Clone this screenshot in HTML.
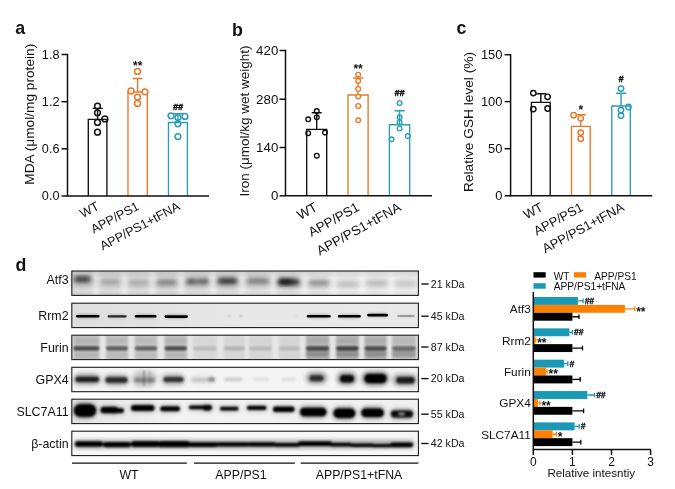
<!DOCTYPE html>
<html><head><meta charset="utf-8"><title>Figure</title>
<style>html,body{margin:0;padding:0;background:#fff}svg{display:block}text{font-family:"Liberation Sans",sans-serif}</style>
</head><body>
<svg width="675" height="489" viewBox="0 0 675 489">
<rect width="675" height="489" fill="#fff"/>
<text x="15.3" y="33.7" font-size="17.8" font-weight="bold" fill="#111111">a</text>
<text x="232" y="36.2" font-size="17.8" font-weight="bold" fill="#111111">b</text>
<text x="456.6" y="33.8" font-size="17.8" font-weight="bold" fill="#111111">c</text>
<text x="15.5" y="270.9" font-size="17.8" font-weight="bold" fill="#111111">d</text>
<line x1="61.5" x2="67.5" y1="54.5" y2="54.5" stroke="#111111" stroke-width="1.5"/>
<text x="59.5" y="58.8" font-size="12.7" text-anchor="end" fill="#111111">1.8</text>
<line x1="61.5" x2="67.5" y1="101.7" y2="101.7" stroke="#111111" stroke-width="1.5"/>
<text x="59.5" y="106.0" font-size="12.7" text-anchor="end" fill="#111111">1.2</text>
<line x1="61.5" x2="67.5" y1="148.8" y2="148.8" stroke="#111111" stroke-width="1.5"/>
<text x="59.5" y="153.10000000000002" font-size="12.7" text-anchor="end" fill="#111111">0.6</text>
<line x1="61.5" x2="67.5" y1="196.0" y2="196.0" stroke="#111111" stroke-width="1.5"/>
<text x="59.5" y="200.3" font-size="12.7" text-anchor="end" fill="#111111">0.0</text>
<text transform="translate(34.2 114.25) rotate(-90)" font-size="13.7" text-anchor="middle" fill="#111111">MDA (μmol/mg protein)</text>
<path d="M88.3 196.0 V119.3 H106.9 V196.0" fill="#fff" stroke="#111111" stroke-width="1.35"/>
<path d="M97.6 119.3 V108.4 M92.6 108.4 H102.8" fill="none" stroke="#111111" stroke-width="1.4"/>
<circle cx="97.5" cy="106.1" r="2.9" fill="none" stroke="#111111" stroke-width="1.5"/>
<circle cx="97.5" cy="112.8" r="2.9" fill="none" stroke="#111111" stroke-width="1.5"/>
<circle cx="97.5" cy="122.4" r="2.9" fill="none" stroke="#111111" stroke-width="1.5"/>
<circle cx="104.9" cy="118.9" r="2.9" fill="none" stroke="#111111" stroke-width="1.5"/>
<circle cx="97.5" cy="132.2" r="2.9" fill="none" stroke="#111111" stroke-width="1.5"/>
<path d="M128 196.0 V92.0 H147.3 V196.0" fill="#fff" stroke="#E9782A" stroke-width="1.35"/>
<path d="M137.65 92.0 V78.5 M132.8 78.5 H142.4" fill="none" stroke="#E9782A" stroke-width="1.4"/>
<circle cx="137.5" cy="71.4" r="2.9" fill="#fff" stroke="#E9782A" stroke-width="1.5"/>
<circle cx="131" cy="90.9" r="2.9" fill="#fff" stroke="#E9782A" stroke-width="1.5"/>
<circle cx="145" cy="91.8" r="2.9" fill="#fff" stroke="#E9782A" stroke-width="1.5"/>
<circle cx="137.5" cy="97.2" r="2.9" fill="#fff" stroke="#E9782A" stroke-width="1.5"/>
<circle cx="137.5" cy="103.4" r="2.9" fill="#fff" stroke="#E9782A" stroke-width="1.5"/>
<text x="137.65" y="69.5" font-size="12" font-weight="bold" text-anchor="middle" fill="#111111">**</text>
<path d="M168.5 196.0 V122.5 H187.4 V196.0" fill="#fff" stroke="#2A9DB8" stroke-width="1.35"/>
<path d="M177.95 122.5 V113.7 M173 113.7 H183" fill="none" stroke="#2A9DB8" stroke-width="1.4"/>
<circle cx="171" cy="115.8" r="2.9" fill="none" stroke="#2A9DB8" stroke-width="1.5"/>
<circle cx="177.9" cy="117.6" r="2.9" fill="none" stroke="#2A9DB8" stroke-width="1.5"/>
<circle cx="184.9" cy="116.4" r="2.9" fill="none" stroke="#2A9DB8" stroke-width="1.5"/>
<circle cx="177.9" cy="123.8" r="2.9" fill="none" stroke="#2A9DB8" stroke-width="1.5"/>
<circle cx="177.9" cy="136.6" r="2.9" fill="none" stroke="#2A9DB8" stroke-width="1.5"/>
<text x="177.95" y="109.5" font-size="9" font-weight="bold" font-style="italic" text-anchor="middle" fill="#111111" stroke="#111111" stroke-width="0.45">##</text>
<path d="M67.5 53.75 V196.0 H209" fill="none" stroke="#111111" stroke-width="1.5"/>
<text transform="translate(100 209) rotate(-28)" font-size="12.6" text-anchor="end" fill="#111111">WT</text>
<text transform="translate(140 209) rotate(-28)" font-size="12.6" text-anchor="end" fill="#111111">APP/PS1</text>
<text transform="translate(181 209) rotate(-28)" font-size="12.6" text-anchor="end" fill="#111111">APP/PS1+tFNA</text>
<line x1="279.5" x2="285.5" y1="50.5" y2="50.5" stroke="#111111" stroke-width="1.5"/>
<text x="278.3" y="54.8" font-size="13.3" text-anchor="end" fill="#111111">420</text>
<line x1="279.5" x2="285.5" y1="99.2" y2="99.2" stroke="#111111" stroke-width="1.5"/>
<text x="278.3" y="103.5" font-size="13.3" text-anchor="end" fill="#111111">280</text>
<line x1="279.5" x2="285.5" y1="147.5" y2="147.5" stroke="#111111" stroke-width="1.5"/>
<text x="278.3" y="151.8" font-size="13.3" text-anchor="end" fill="#111111">140</text>
<line x1="279.5" x2="285.5" y1="195.8" y2="195.8" stroke="#111111" stroke-width="1.5"/>
<text x="278.3" y="200.10000000000002" font-size="13.3" text-anchor="end" fill="#111111">0</text>
<text transform="translate(248.6 121) rotate(-90)" font-size="13.5" text-anchor="middle" fill="#111111">Iron (μmol/kg wet weight)</text>
<path d="M306.7 195.8 V129.3 H326.7 V195.8" fill="#fff" stroke="#111111" stroke-width="1.35"/>
<path d="M316.7 129.3 V112.8 M311.7 112.8 H321.7" fill="none" stroke="#111111" stroke-width="1.4"/>
<circle cx="316.8" cy="111.1" r="2.35" fill="none" stroke="#111111" stroke-width="1.35"/>
<circle cx="308.2" cy="119.3" r="2.35" fill="none" stroke="#111111" stroke-width="1.35"/>
<circle cx="316.8" cy="117.3" r="2.35" fill="none" stroke="#111111" stroke-width="1.35"/>
<circle cx="308.2" cy="133.2" r="2.35" fill="none" stroke="#111111" stroke-width="1.35"/>
<circle cx="325" cy="132.6" r="2.35" fill="none" stroke="#111111" stroke-width="1.35"/>
<circle cx="316.8" cy="155.7" r="2.35" fill="none" stroke="#111111" stroke-width="1.35"/>
<path d="M348 195.8 V95 H368.1 V195.8" fill="#fff" stroke="#E9782A" stroke-width="1.35"/>
<path d="M358.05 95 V78 M353.1 78 H363.3" fill="none" stroke="#E9782A" stroke-width="1.4"/>
<circle cx="358.2" cy="74.7" r="2.35" fill="#fff" stroke="#E9782A" stroke-width="1.35"/>
<circle cx="358.2" cy="80.9" r="2.35" fill="#fff" stroke="#E9782A" stroke-width="1.35"/>
<circle cx="358.2" cy="89" r="2.35" fill="#fff" stroke="#E9782A" stroke-width="1.35"/>
<circle cx="358.2" cy="96.4" r="2.35" fill="#fff" stroke="#E9782A" stroke-width="1.35"/>
<circle cx="358.2" cy="106" r="2.35" fill="#fff" stroke="#E9782A" stroke-width="1.35"/>
<circle cx="358.2" cy="120.3" r="2.35" fill="#fff" stroke="#E9782A" stroke-width="1.35"/>
<text x="358.05" y="73.0" font-size="12" font-weight="bold" text-anchor="middle" fill="#111111">**</text>
<path d="M389.4 195.8 V124.7 H409.7 V195.8" fill="#fff" stroke="#2A9DB8" stroke-width="1.35"/>
<path d="M399.54999999999995 124.7 V110.7 M394.5 110.7 H404.7" fill="none" stroke="#2A9DB8" stroke-width="1.4"/>
<circle cx="399.6" cy="103" r="2.35" fill="none" stroke="#2A9DB8" stroke-width="1.35"/>
<circle cx="399.6" cy="117.3" r="2.35" fill="none" stroke="#2A9DB8" stroke-width="1.35"/>
<circle cx="399.6" cy="122.4" r="2.35" fill="none" stroke="#2A9DB8" stroke-width="1.35"/>
<circle cx="399.6" cy="128.5" r="2.35" fill="none" stroke="#2A9DB8" stroke-width="1.35"/>
<circle cx="391.6" cy="139.3" r="2.35" fill="none" stroke="#2A9DB8" stroke-width="1.35"/>
<circle cx="407.8" cy="136.1" r="2.35" fill="none" stroke="#2A9DB8" stroke-width="1.35"/>
<text x="399.54999999999995" y="96" font-size="9" font-weight="bold" font-style="italic" text-anchor="middle" fill="#111111" stroke="#111111" stroke-width="0.45">##</text>
<path d="M285.5 49.75 V195.8 H432" fill="none" stroke="#111111" stroke-width="1.5"/>
<text transform="translate(318.5 210) rotate(-29)" font-size="13.4" text-anchor="end" fill="#111111">WT</text>
<text transform="translate(360.3 210) rotate(-29)" font-size="13.4" text-anchor="end" fill="#111111">APP/PS1</text>
<text transform="translate(402 210) rotate(-29)" font-size="13.4" text-anchor="end" fill="#111111">APP/PS1+tFNA</text>
<line x1="504.6" x2="510.6" y1="54.7" y2="54.7" stroke="#111111" stroke-width="1.5"/>
<text x="502.40000000000003" y="59.0" font-size="12.9" text-anchor="end" fill="#111111">150</text>
<line x1="504.6" x2="510.6" y1="101.6" y2="101.6" stroke="#111111" stroke-width="1.5"/>
<text x="502.40000000000003" y="105.89999999999999" font-size="12.9" text-anchor="end" fill="#111111">100</text>
<line x1="504.6" x2="510.6" y1="148.7" y2="148.7" stroke="#111111" stroke-width="1.5"/>
<text x="502.40000000000003" y="153.0" font-size="12.9" text-anchor="end" fill="#111111">50</text>
<line x1="504.6" x2="510.6" y1="195.8" y2="195.8" stroke="#111111" stroke-width="1.5"/>
<text x="502.40000000000003" y="200.10000000000002" font-size="12.9" text-anchor="end" fill="#111111">0</text>
<text transform="translate(473.1 122) rotate(-90)" font-size="13.7" text-anchor="middle" fill="#111111">Relative GSH level (%)</text>
<path d="M531.4 195.8 V102.4 H550.2 V195.8" fill="#fff" stroke="#111111" stroke-width="1.35"/>
<path d="M540.8 102.4 V93.7 M536.2 93.7 H546.2" fill="none" stroke="#111111" stroke-width="1.4"/>
<circle cx="533.3" cy="93.1" r="2.7" fill="none" stroke="#111111" stroke-width="1.45"/>
<circle cx="547.6" cy="96.8" r="2.7" fill="none" stroke="#111111" stroke-width="1.45"/>
<circle cx="533.3" cy="109.1" r="2.7" fill="none" stroke="#111111" stroke-width="1.45"/>
<circle cx="547.6" cy="108.5" r="2.7" fill="none" stroke="#111111" stroke-width="1.45"/>
<path d="M571.5 195.8 V126.3 H590.2 V195.8" fill="#fff" stroke="#E9782A" stroke-width="1.35"/>
<path d="M580.85 126.3 V114.8 M576 114.8 H585.8" fill="none" stroke="#E9782A" stroke-width="1.4"/>
<circle cx="573.6" cy="115.2" r="2.7" fill="#fff" stroke="#E9782A" stroke-width="1.45"/>
<circle cx="580.7" cy="118.3" r="2.7" fill="#fff" stroke="#E9782A" stroke-width="1.45"/>
<circle cx="580.7" cy="132.6" r="2.7" fill="#fff" stroke="#E9782A" stroke-width="1.45"/>
<circle cx="580.7" cy="138.7" r="2.7" fill="#fff" stroke="#E9782A" stroke-width="1.45"/>
<text x="580.85" y="114.0" font-size="12" font-weight="bold" text-anchor="middle" fill="#111111">*</text>
<path d="M611.8 195.8 V106 H630.3 V195.8" fill="#fff" stroke="#2A9DB8" stroke-width="1.35"/>
<path d="M621.05 106 V93.3 M616.1 93.3 H626" fill="none" stroke="#2A9DB8" stroke-width="1.4"/>
<circle cx="621" cy="88.6" r="2.7" fill="none" stroke="#2A9DB8" stroke-width="1.45"/>
<circle cx="628.4" cy="107" r="2.7" fill="none" stroke="#2A9DB8" stroke-width="1.45"/>
<circle cx="621" cy="110.1" r="2.7" fill="none" stroke="#2A9DB8" stroke-width="1.45"/>
<circle cx="621" cy="115.6" r="2.7" fill="none" stroke="#2A9DB8" stroke-width="1.45"/>
<text x="621.05" y="82" font-size="9" font-weight="bold" font-style="italic" text-anchor="middle" fill="#111111" stroke="#111111" stroke-width="0.45">#</text>
<path d="M510.6 53.95 V195.8 H652.3" fill="none" stroke="#111111" stroke-width="1.5"/>
<text transform="translate(544 210) rotate(-28.5)" font-size="12.9" text-anchor="end" fill="#111111">WT</text>
<text transform="translate(584 210) rotate(-28.5)" font-size="12.9" text-anchor="end" fill="#111111">APP/PS1</text>
<text transform="translate(625 210) rotate(-28.5)" font-size="12.9" text-anchor="end" fill="#111111">APP/PS1+tFNA</text>
<defs><filter id="f05" x="-20%" y="-20%" width="140%" height="140%"><feGaussianBlur stdDeviation="0.6"/></filter><filter id="f08" x="-20%" y="-20%" width="140%" height="140%"><feGaussianBlur stdDeviation="0.9"/></filter><filter id="f12" x="-20%" y="-20%" width="140%" height="140%"><feGaussianBlur stdDeviation="1.3"/></filter><filter id="f18" x="-20%" y="-20%" width="140%" height="140%"><feGaussianBlur stdDeviation="1.9"/></filter><filter id="f30" x="-20%" y="-20%" width="140%" height="140%"><feGaussianBlur stdDeviation="3"/></filter></defs>
<clipPath id="cp0"><rect x="71.8" y="271" width="346.59999999999997" height="24.4"/></clipPath>
<g clip-path="url(#cp0)">
<linearGradient id="g0" x1="0" x2="1" y1="0" y2="0"><stop offset="0" stop-color="#dadada"/><stop offset="0.55" stop-color="#e2e2e2"/><stop offset="0.75" stop-color="#ececec"/><stop offset="1" stop-color="#f0f0f0"/></linearGradient>
<rect x="71.8" y="271" width="346.59999999999997" height="24.4" fill="url(#g0)"/>
<g filter="url(#f18)"><rect x="93.4" y="269" width="5.2" height="28.4" fill="#fff" opacity="0.55"/><rect x="121.8" y="269" width="5.2" height="28.4" fill="#fff" opacity="0.55"/><rect x="149.9" y="269" width="5.2" height="28.4" fill="#fff" opacity="0.55"/><rect x="178.8" y="269" width="5.2" height="28.4" fill="#fff" opacity="0.55"/><rect x="210.2" y="269" width="5.2" height="28.4" fill="#fff" opacity="0.55"/><rect x="239.5" y="269" width="5.2" height="28.4" fill="#fff" opacity="0.55"/><rect x="270.9" y="269" width="5.2" height="28.4" fill="#fff" opacity="0.55"/><rect x="301.6" y="269" width="5.2" height="28.4" fill="#fff" opacity="0.55"/><rect x="330.9" y="269" width="5.2" height="28.4" fill="#fff" opacity="0.55"/><rect x="359.8" y="269" width="5.2" height="28.4" fill="#fff" opacity="0.55"/><rect x="388.9" y="269" width="5.2" height="28.4" fill="#fff" opacity="0.55"/></g>
<g filter="url(#f30)"><rect x="72.2" y="274.8" width="20.8" height="12.0" rx="6.0" fill="#000" opacity="0.165"/><rect x="99.0" y="277.5" width="22.5" height="12.0" rx="6.0" fill="#000" opacity="0.0594"/><rect x="127.3" y="278.4" width="22.7" height="12.0" rx="6.0" fill="#000" opacity="0.055"/><rect x="155.0" y="278.0" width="23.4" height="12.0" rx="6.0" fill="#000" opacity="0.1056"/><rect x="184.5" y="277.1" width="25.5" height="12.0" rx="6.0" fill="#000" opacity="0.132"/><rect x="215.7" y="276.5" width="23.5" height="12.0" rx="6.0" fill="#000" opacity="0.17600000000000002"/><rect x="245.0" y="276.5" width="26.0" height="12.0" rx="6.0" fill="#000" opacity="0.11"/><rect x="276.0" y="277.5" width="25.4" height="12.0" rx="6.0" fill="#000" opacity="0.209"/><rect x="307.0" y="278.5" width="24.0" height="12.0" rx="6.0" fill="#000" opacity="0.0924"/><rect x="336.0" y="279.8" width="24.0" height="12.0" rx="6.0" fill="#000" opacity="0.044000000000000004"/><rect x="364.7" y="278.9" width="24.3" height="12.0" rx="6.0" fill="#000" opacity="0.0528"/><rect x="394.0" y="279.3" width="23.5" height="12.0" rx="6.0" fill="#000" opacity="0.039599999999999996"/></g>
<g filter="url(#f18)"><rect x="74.2" y="276.6" width="16.8" height="5.4" rx="2.7" fill="#000" opacity="0.6000000000000001"/><rect x="101.0" y="279.7" width="18.5" height="4.6" rx="2.3" fill="#000" opacity="0.21600000000000003"/><rect x="129.3" y="280.7" width="18.7" height="4.4" rx="2.2" fill="#000" opacity="0.2"/><rect x="157.0" y="280.2" width="19.4" height="4.6" rx="2.3" fill="#000" opacity="0.384"/><rect x="186.5" y="279.1" width="21.5" height="5.0" rx="2.5" fill="#000" opacity="0.48"/><rect x="217.7" y="278.2" width="19.5" height="5.6" rx="2.8" fill="#000" opacity="0.6400000000000001"/><rect x="247.0" y="278.4" width="22.0" height="5.2" rx="2.6" fill="#000" opacity="0.4"/><rect x="278.0" y="278.9" width="21.4" height="6.2" rx="3.1" fill="#000" opacity="0.76"/><rect x="309.0" y="280.6" width="20.0" height="4.8" rx="2.4" fill="#000" opacity="0.336"/><rect x="338.0" y="282.1" width="20.0" height="4.4" rx="2.2" fill="#000" opacity="0.16000000000000003"/><rect x="366.7" y="281.2" width="20.3" height="4.4" rx="2.2" fill="#000" opacity="0.192"/><rect x="396.0" y="281.7" width="19.5" height="4.2" rx="2.1" fill="#000" opacity="0.144"/></g>
<linearGradient id="g0v" x1="0" x2="0" y1="0" y2="1"><stop offset="0" stop-color="#000" stop-opacity="0.12"/><stop offset="0.3" stop-color="#000" stop-opacity="0.02"/><stop offset="0.8" stop-color="#fff" stop-opacity="0.12"/><stop offset="1" stop-color="#000" stop-opacity="0.05"/></linearGradient>
<rect x="71.8" y="271" width="346.59999999999997" height="24.4" fill="url(#g0v)"/>
<g filter="url(#f18)"><rect x="279.0" y="279.1" width="13.0" height="5.5" rx="2.8" fill="#000" opacity="0.6"/><rect x="219.0" y="279.0" width="17.0" height="4.0" rx="2.0" fill="#000" opacity="0.3"/><rect x="187.0" y="279.0" width="6.0" height="5.0" rx="2.5" fill="#000" opacity="0.25"/><rect x="203.0" y="278.5" width="5.0" height="5.0" rx="2.5" fill="#000" opacity="0.25"/><rect x="75.0" y="277.0" width="13.0" height="4.0" rx="2.0" fill="#000" opacity="0.25"/></g>
</g>
<rect x="71.8" y="271" width="346.59999999999997" height="24.4" fill="none" stroke="#1c1c1c" stroke-width="1.1"/>
<text x="68.6" y="284.0" font-size="12.4" text-anchor="end" fill="#111111">Atf3</text>
<line x1="421.3" x2="428.6" y1="284.0" y2="284.0" stroke="#111111" stroke-width="1.4"/>
<text x="430.8" y="287.8" font-size="10.65" fill="#111111">21 kDa</text>
<clipPath id="cp1"><rect x="71.8" y="303.2" width="346.59999999999997" height="24.4"/></clipPath>
<g clip-path="url(#cp1)">
<linearGradient id="g1" x1="0" x2="1" y1="0" y2="0"><stop offset="0" stop-color="#dedede"/><stop offset="0.5" stop-color="#e8e8e8"/><stop offset="1" stop-color="#e9e9e9"/></linearGradient>
<rect x="71.8" y="303.2" width="346.59999999999997" height="24.4" fill="url(#g1)"/>
<g filter="url(#f05)"><rect x="76.0" y="314.9" width="23.5" height="2.5" rx="1.2" fill="#000" opacity="1"/><rect x="107.5" y="315.3" width="19.2" height="2.1" rx="1.1" fill="#000" opacity="0.8"/><rect x="134.7" y="315.1" width="21.8" height="2.5" rx="1.2" fill="#000" opacity="1"/><rect x="164.5" y="315.2" width="23.5" height="2.7" rx="1.3" fill="#000" opacity="1"/><rect x="306.7" y="314.9" width="24.0" height="2.5" rx="1.2" fill="#000" opacity="1"/><rect x="337.9" y="315.1" width="22.9" height="2.5" rx="1.2" fill="#000" opacity="1"/><rect x="367.2" y="313.8" width="20.8" height="2.7" rx="1.3" fill="#000" opacity="1"/><rect x="397.3" y="315.1" width="17.4" height="1.9" rx="0.9" fill="#000" opacity="0.3"/></g>
<g filter="url(#f12)"><rect x="77.0" y="313.8" width="21.5" height="4.6" rx="2.3" fill="#000" opacity="0.2"/><rect x="108.5" y="314.3" width="17.2" height="4.2" rx="2.1" fill="#000" opacity="0.16000000000000003"/><rect x="135.7" y="314.1" width="19.8" height="4.6" rx="2.3" fill="#000" opacity="0.2"/><rect x="165.5" y="314.2" width="21.5" height="4.8" rx="2.4" fill="#000" opacity="0.2"/><rect x="307.7" y="313.8" width="22.0" height="4.6" rx="2.3" fill="#000" opacity="0.2"/><rect x="338.9" y="314.1" width="20.9" height="4.6" rx="2.3" fill="#000" opacity="0.2"/><rect x="368.2" y="312.8" width="18.8" height="4.8" rx="2.4" fill="#000" opacity="0.2"/><rect x="398.3" y="314.0" width="15.4" height="4.0" rx="2.0" fill="#000" opacity="0.06"/></g>
<g filter="url(#f08)"><rect x="228.0" y="315.2" width="1.6" height="1.6" rx="0.8" fill="#000" opacity="0.4"/><rect x="240.0" y="315.0" width="1.6" height="2.0" rx="0.8" fill="#000" opacity="0.5"/><rect x="296.0" y="315.2" width="1.5" height="1.5" rx="0.8" fill="#000" opacity="0.25"/></g>
</g>
<rect x="71.8" y="303.2" width="346.59999999999997" height="24.4" fill="none" stroke="#1c1c1c" stroke-width="1.1"/>
<text x="68.6" y="320.0" font-size="12.4" text-anchor="end" fill="#111111">Rrm2</text>
<line x1="421.3" x2="428.6" y1="316.2" y2="316.2" stroke="#111111" stroke-width="1.4"/>
<text x="430.8" y="320.0" font-size="10.65" fill="#111111">45 kDa</text>
<clipPath id="cp2"><rect x="71.8" y="335.2" width="346.59999999999997" height="24.4"/></clipPath>
<g clip-path="url(#cp2)">
<rect x="71.8" y="335.2" width="346.59999999999997" height="24.4" fill="#e6e6e6"/>
<g filter="url(#f12)"><rect x="73.3" y="332.2" width="26.2" height="30.4" fill="#000" opacity="0.16"/><rect x="106.0" y="332.2" width="22.0" height="30.4" fill="#000" opacity="0.15"/><rect x="134.7" y="332.2" width="22.6" height="30.4" fill="#000" opacity="0.14"/><rect x="164.5" y="332.2" width="22.5" height="30.4" fill="#000" opacity="0.16"/><rect x="193.0" y="332.2" width="24.0" height="30.4" fill="#000" opacity="0.05"/><rect x="223.5" y="332.2" width="21.5" height="30.4" fill="#000" opacity="0.05"/><rect x="249.0" y="332.2" width="23.0" height="30.4" fill="#000" opacity="0.06"/><rect x="278.7" y="332.2" width="21.3" height="30.4" fill="#000" opacity="0.06"/><rect x="305.9" y="332.2" width="23.4" height="30.4" fill="#000" opacity="0.2"/><rect x="336.0" y="332.2" width="22.7" height="30.4" fill="#000" opacity="0.2"/><rect x="364.5" y="332.2" width="22.2" height="30.4" fill="#000" opacity="0.2"/><rect x="392.0" y="332.2" width="24.0" height="30.4" fill="#000" opacity="0.16"/></g>
<g filter="url(#f12)"><rect x="73.3" y="346.2" width="26.2" height="4.2" rx="2.1" fill="#000" opacity="0.644"/><rect x="106.0" y="346.2" width="22.0" height="4.2" rx="2.1" fill="#000" opacity="0.552"/><rect x="134.7" y="346.2" width="22.6" height="4.2" rx="2.1" fill="#000" opacity="0.5336"/><rect x="164.5" y="346.2" width="22.5" height="4.2" rx="2.1" fill="#000" opacity="0.644"/><rect x="193.0" y="346.2" width="24.0" height="4.2" rx="2.1" fill="#000" opacity="0.1472"/><rect x="223.5" y="346.2" width="21.5" height="4.2" rx="2.1" fill="#000" opacity="0.18400000000000002"/><rect x="249.0" y="346.2" width="23.0" height="4.2" rx="2.1" fill="#000" opacity="0.1472"/><rect x="278.7" y="346.2" width="21.3" height="4.2" rx="2.1" fill="#000" opacity="0.1472"/><rect x="305.9" y="346.2" width="23.4" height="4.2" rx="2.1" fill="#000" opacity="0.6256"/><rect x="336.0" y="346.2" width="22.7" height="4.2" rx="2.1" fill="#000" opacity="0.6624"/><rect x="364.5" y="346.2" width="22.2" height="4.2" rx="2.1" fill="#000" opacity="0.6072000000000001"/><rect x="392.0" y="346.2" width="24.0" height="4.2" rx="2.1" fill="#000" opacity="0.46"/></g>
<g filter="url(#f18)"><rect x="73.3" y="339.0" width="26.2" height="3.6" rx="1.8" fill="#000" opacity="0.126"/><rect x="106.0" y="339.0" width="22.0" height="3.6" rx="1.8" fill="#000" opacity="0.108"/><rect x="134.7" y="339.0" width="22.6" height="3.6" rx="1.8" fill="#000" opacity="0.10439999999999999"/><rect x="164.5" y="339.0" width="22.5" height="3.6" rx="1.8" fill="#000" opacity="0.126"/><rect x="193.0" y="339.0" width="24.0" height="3.6" rx="1.8" fill="#000" opacity="0.0288"/><rect x="223.5" y="339.0" width="21.5" height="3.6" rx="1.8" fill="#000" opacity="0.036"/><rect x="249.0" y="339.0" width="23.0" height="3.6" rx="1.8" fill="#000" opacity="0.0288"/><rect x="278.7" y="339.0" width="21.3" height="3.6" rx="1.8" fill="#000" opacity="0.0288"/><rect x="305.9" y="339.0" width="23.4" height="3.6" rx="1.8" fill="#000" opacity="0.12240000000000001"/><rect x="336.0" y="339.0" width="22.7" height="3.6" rx="1.8" fill="#000" opacity="0.1296"/><rect x="364.5" y="339.0" width="22.2" height="3.6" rx="1.8" fill="#000" opacity="0.1188"/><rect x="392.0" y="339.0" width="24.0" height="3.6" rx="1.8" fill="#000" opacity="0.09"/><rect x="73.3" y="353.4" width="26.2" height="3.6" rx="1.8" fill="#000" opacity="0.11199999999999999"/><rect x="106.0" y="353.4" width="22.0" height="3.6" rx="1.8" fill="#000" opacity="0.096"/><rect x="134.7" y="353.4" width="22.6" height="3.6" rx="1.8" fill="#000" opacity="0.0928"/><rect x="164.5" y="353.4" width="22.5" height="3.6" rx="1.8" fill="#000" opacity="0.11199999999999999"/><rect x="193.0" y="353.4" width="24.0" height="3.6" rx="1.8" fill="#000" opacity="0.0256"/><rect x="223.5" y="353.4" width="21.5" height="3.6" rx="1.8" fill="#000" opacity="0.032"/><rect x="249.0" y="353.4" width="23.0" height="3.6" rx="1.8" fill="#000" opacity="0.0256"/><rect x="278.7" y="353.4" width="21.3" height="3.6" rx="1.8" fill="#000" opacity="0.0256"/><rect x="305.9" y="353.4" width="23.4" height="3.6" rx="1.8" fill="#000" opacity="0.10880000000000001"/><rect x="336.0" y="353.4" width="22.7" height="3.6" rx="1.8" fill="#000" opacity="0.1152"/><rect x="364.5" y="353.4" width="22.2" height="3.6" rx="1.8" fill="#000" opacity="0.10560000000000001"/><rect x="392.0" y="353.4" width="24.0" height="3.6" rx="1.8" fill="#000" opacity="0.08"/></g>
<g filter="url(#f12)"><rect x="305.9" y="349.7" width="23.4" height="7.0" rx="3.5" fill="#000" opacity="0.18"/><rect x="336.0" y="349.7" width="22.7" height="7.0" rx="3.5" fill="#000" opacity="0.18"/><rect x="364.5" y="349.7" width="22.2" height="7.0" rx="3.5" fill="#000" opacity="0.18"/><rect x="392.0" y="349.7" width="24.0" height="7.0" rx="3.5" fill="#000" opacity="0.18"/></g>
</g>
<rect x="71.8" y="335.2" width="346.59999999999997" height="24.4" fill="none" stroke="#1c1c1c" stroke-width="1.1"/>
<text x="68.6" y="352.0" font-size="12.4" text-anchor="end" fill="#111111">Furin</text>
<line x1="421.3" x2="428.6" y1="347.0" y2="347.0" stroke="#111111" stroke-width="1.4"/>
<text x="430.8" y="350.8" font-size="10.65" fill="#111111">87 kDa</text>
<clipPath id="cp3"><rect x="71.8" y="367.3" width="346.59999999999997" height="24.4"/></clipPath>
<g clip-path="url(#cp3)">
<rect x="71.8" y="367.3" width="346.59999999999997" height="24.4" fill="#f4f4f4"/>
<g filter="url(#f18)"><rect x="73.5" y="373.8" width="27.0" height="11.0" rx="5.5" fill="#000" opacity="0.38"/><rect x="104.0" y="374.5" width="25.0" height="11.0" rx="5.5" fill="#000" opacity="0.36"/><rect x="132.0" y="371.0" width="25.0" height="16.0" rx="8.0" fill="#000" opacity="0.2"/><rect x="161.7" y="374.1" width="23.3" height="11.0" rx="5.5" fill="#000" opacity="0.32"/><rect x="190.7" y="375.5" width="25.3" height="8.0" rx="4.0" fill="#000" opacity="0.08"/><rect x="306.0" y="372.0" width="21.0" height="12.0" rx="6.0" fill="#000" opacity="0.36"/><rect x="336.7" y="372.0" width="20.0" height="13.0" rx="6.5" fill="#000" opacity="0.42"/><rect x="362.0" y="371.5" width="26.7" height="14.0" rx="7.0" fill="#000" opacity="0.5"/><rect x="392.7" y="374.0" width="24.3" height="12.0" rx="6.0" fill="#000" opacity="0.38"/></g>
<g filter="url(#f12)"><rect x="75.5" y="376.7" width="23.5" height="5.2" rx="2.6" fill="#000" opacity="0.8"/><rect x="105.5" y="377.3" width="22.0" height="5.4" rx="2.7" fill="#000" opacity="0.75"/><rect x="134.0" y="377.5" width="21.0" height="5.0" rx="2.5" fill="#000" opacity="0.3"/><rect x="163.5" y="377.1" width="20.0" height="5.0" rx="2.5" fill="#000" opacity="0.7"/><rect x="191.0" y="378.0" width="17.0" height="4.0" rx="2.0" fill="#000" opacity="0.12"/><rect x="208.0" y="377.0" width="7.0" height="5.0" rx="2.5" fill="#000" opacity="0.35"/><rect x="224.0" y="377.4" width="18.7" height="4.2" rx="2.1" fill="#000" opacity="0.15"/><rect x="253.0" y="377.5" width="16.0" height="4.0" rx="2.0" fill="#000" opacity="0.08"/><rect x="281.0" y="377.5" width="15.0" height="4.0" rx="2.0" fill="#000" opacity="0.08"/><rect x="309.5" y="375.3" width="14.0" height="6.0" rx="3.0" fill="#000" opacity="0.7"/><rect x="340.0" y="374.9" width="14.0" height="7.5" rx="3.8" fill="#000" opacity="0.92"/><rect x="364.5" y="374.0" width="22.0" height="9.0" rx="4.5" fill="#000" opacity="1"/><rect x="396.5" y="376.9" width="18.0" height="6.5" rx="3.2" fill="#000" opacity="0.82"/></g>
<g filter="url(#f08)"><rect x="143.0" y="370.0" width="2.0" height="16.0" rx="1.0" fill="#000" opacity="0.25"/><rect x="149.0" y="371.0" width="1.4" height="14.0" rx="0.7" fill="#000" opacity="0.18"/></g>
</g>
<rect x="71.8" y="367.3" width="346.59999999999997" height="24.4" fill="none" stroke="#1c1c1c" stroke-width="1.1"/>
<text x="68.6" y="384.1" font-size="12.4" text-anchor="end" fill="#111111">GPX4</text>
<line x1="421.3" x2="428.6" y1="378.6" y2="378.6" stroke="#111111" stroke-width="1.4"/>
<text x="430.8" y="382.4" font-size="10.65" fill="#111111">20 kDa</text>
<clipPath id="cp4"><rect x="71.8" y="399.2" width="346.59999999999997" height="24.4"/></clipPath>
<g clip-path="url(#cp4)">
<linearGradient id="g4" x1="0" x2="1" y1="0" y2="0"><stop offset="0" stop-color="#e4e4e4"/><stop offset="0.3" stop-color="#f2f2f2"/><stop offset="1" stop-color="#f0f0f0"/></linearGradient>
<rect x="71.8" y="399.2" width="346.59999999999997" height="24.4" fill="url(#g4)"/>
<g filter="url(#f18)"><rect x="73.0" y="403.0" width="24.0" height="15.0" rx="7.5" fill="#000" opacity="0.3"/><rect x="299.0" y="406.0" width="28.0" height="12.0" rx="6.0" fill="#000" opacity="0.22"/><rect x="332.5" y="406.7" width="23.5" height="13.0" rx="6.5" fill="#000" opacity="0.25"/><rect x="360.5" y="406.7" width="24.0" height="12.0" rx="6.0" fill="#000" opacity="0.25"/><rect x="390.0" y="409.0" width="23.5" height="10.0" rx="5.0" fill="#000" opacity="0.2"/></g>
<g filter="url(#f08)"><rect x="74.0" y="404.3" width="22.0" height="12.4" rx="6.2" fill="#000" opacity="1"/><rect x="100.5" y="406.8" width="17.5" height="6.4" rx="3.2" fill="#000" opacity="1"/><rect x="112.0" y="408.2" width="12.0" height="4.8" rx="2.4" fill="#000" opacity="1"/><rect x="131.0" y="405.1" width="23.5" height="5.8" rx="2.9" fill="#000" opacity="1"/><rect x="160.3" y="406.2" width="19.7" height="5.0" rx="2.5" fill="#000" opacity="1"/><rect x="189.0" y="405.5" width="23.0" height="3.8" rx="1.9" fill="#000" opacity="1"/><rect x="203.0" y="405.2" width="8.5" height="5.2" rx="2.6" fill="#000" opacity="1"/><rect x="220.0" y="406.8" width="18.5" height="3.8" rx="1.9" fill="#000" opacity="1"/><rect x="246.9" y="405.8" width="19.6" height="4.2" rx="2.1" fill="#000" opacity="1"/><rect x="273.0" y="406.4" width="21.5" height="5.6" rx="2.8" fill="#000" opacity="1"/><rect x="300.0" y="407.8" width="26.5" height="8.4" rx="4.2" fill="#000" opacity="1"/><rect x="333.5" y="408.5" width="21.8" height="9.4" rx="4.7" fill="#000" opacity="1"/><rect x="361.3" y="408.4" width="22.5" height="8.6" rx="4.3" fill="#000" opacity="1"/><rect x="391.0" y="410.6" width="22.0" height="6.8" rx="3.4" fill="#000" opacity="0.92"/></g>
<g filter="url(#f18)"><rect x="73.0" y="402.5" width="24.0" height="16.0" rx="8.0" fill="#000" opacity="0.22"/><rect x="99.5" y="405.0" width="19.5" height="10.0" rx="5.0" fill="#000" opacity="0.22"/><rect x="111.0" y="406.8" width="14.0" height="7.6" rx="3.8" fill="#000" opacity="0.22"/><rect x="130.0" y="403.3" width="25.5" height="9.4" rx="4.7" fill="#000" opacity="0.22"/><rect x="159.3" y="404.4" width="21.7" height="8.6" rx="4.3" fill="#000" opacity="0.22"/><rect x="188.0" y="404.1" width="25.0" height="6.6" rx="3.3" fill="#000" opacity="0.22"/><rect x="202.0" y="403.8" width="10.5" height="8.0" rx="4.0" fill="#000" opacity="0.22"/><rect x="219.0" y="405.4" width="20.5" height="6.6" rx="3.3" fill="#000" opacity="0.22"/><rect x="245.9" y="404.4" width="21.6" height="7.0" rx="3.5" fill="#000" opacity="0.22"/><rect x="272.0" y="405.0" width="23.5" height="8.4" rx="4.2" fill="#000" opacity="0.22"/><rect x="299.0" y="406.0" width="28.5" height="12.0" rx="6.0" fill="#000" opacity="0.22"/><rect x="332.5" y="406.7" width="23.8" height="13.0" rx="6.5" fill="#000" opacity="0.22"/><rect x="360.3" y="406.6" width="24.5" height="12.2" rx="6.1" fill="#000" opacity="0.22"/><rect x="390.0" y="408.8" width="24.0" height="10.4" rx="5.2" fill="#000" opacity="0.22"/></g>
<g filter="url(#f08)"><rect x="398.0" y="412.3" width="7.0" height="3.4" rx="1.7" fill="#fff" opacity="0.45"/></g>
</g>
<rect x="71.8" y="399.2" width="346.59999999999997" height="24.4" fill="none" stroke="#1c1c1c" stroke-width="1.1"/>
<text x="68.6" y="416.0" font-size="12.4" text-anchor="end" fill="#111111">SLC7A11</text>
<line x1="421.3" x2="428.6" y1="414.2" y2="414.2" stroke="#111111" stroke-width="1.4"/>
<text x="430.8" y="418.0" font-size="10.65" fill="#111111">55 kDa</text>
<clipPath id="cp5"><rect x="71.8" y="431.2" width="346.59999999999997" height="24.4"/></clipPath>
<g clip-path="url(#cp5)">
<rect x="71.8" y="431.2" width="346.59999999999997" height="24.4" fill="#f6f6f6"/>
<g filter="url(#f18)"><rect x="73.5" y="439.7" width="341.0" height="9.0" rx="4.5" fill="#000" opacity="0.3"/></g>
<g filter="url(#f08)"><rect x="75.0" y="441.2" width="28.0" height="5.6" rx="2.8" fill="#000" opacity="1"/><rect x="103.0" y="441.9" width="28.0" height="5.4" rx="2.7" fill="#000" opacity="1"/><rect x="131.0" y="441.0" width="29.0" height="6.0" rx="3.0" fill="#000" opacity="1"/><rect x="158.0" y="441.1" width="32.0" height="6.2" rx="3.1" fill="#000" opacity="1"/><rect x="188.0" y="442.2" width="30.0" height="4.8" rx="2.4" fill="#000" opacity="1"/><rect x="216.0" y="442.3" width="34.0" height="4.2" rx="2.1" fill="#000" opacity="1"/><rect x="248.0" y="442.2" width="28.0" height="4.2" rx="2.1" fill="#000" opacity="1"/><rect x="274.0" y="442.9" width="26.0" height="3.8" rx="1.9" fill="#000" opacity="1"/><rect x="298.0" y="441.3" width="34.0" height="4.6" rx="2.3" fill="#000" opacity="1"/><rect x="330.0" y="442.7" width="22.0" height="3.9" rx="1.9" fill="#000" opacity="1"/><rect x="350.0" y="443.4" width="24.0" height="3.5" rx="1.8" fill="#000" opacity="1"/><rect x="372.0" y="444.0" width="20.0" height="3.2" rx="1.6" fill="#000" opacity="1"/><rect x="390.0" y="442.4" width="23.2" height="4.8" rx="2.4" fill="#000" opacity="1"/></g>
</g>
<rect x="71.8" y="431.2" width="346.59999999999997" height="24.4" fill="none" stroke="#1c1c1c" stroke-width="1.1"/>
<text x="68.6" y="448.0" font-size="12.4" text-anchor="end" fill="#111111">β-actin</text>
<line x1="421.3" x2="428.6" y1="443.5" y2="443.5" stroke="#111111" stroke-width="1.4"/>
<text x="430.8" y="447.3" font-size="10.65" fill="#111111">42 kDa</text>
<line x1="72" x2="186.8" y1="463.2" y2="463.2" stroke="#111111" stroke-width="1.2"/>
<text x="129" y="478.5" font-size="12.3" text-anchor="middle" fill="#111111">WT</text>
<line x1="194" x2="294.8" y1="463.2" y2="463.2" stroke="#111111" stroke-width="1.2"/>
<text x="241" y="478.5" font-size="12.3" text-anchor="middle" fill="#111111">APP/PS1</text>
<line x1="300.7" x2="418.4" y1="463.2" y2="463.2" stroke="#111111" stroke-width="1.2"/>
<text x="359" y="478.5" font-size="12.3" text-anchor="middle" fill="#111111">APP/PS1+tFNA</text>
<rect x="533.5" y="272.2" width="12.2" height="5.4" fill="#000"/>
<text x="553.7" y="279.8" font-size="10.2" fill="#111111">WT</text>
<rect x="573.9" y="272.2" width="12.2" height="5.4" fill="#FF8000"/>
<text x="594.2" y="279.8" font-size="10.2" fill="#111111">APP/PS1</text>
<rect x="533.5" y="283.2" width="12.2" height="5.5" fill="#1A99B7"/>
<text x="553.7" y="289.6" font-size="10.2" fill="#111111">APP/PS1+tFNA</text>
<rect x="533.3" y="297.0" width="44.60000000000002" height="7.9" fill="#1A99B7"/>
<path d="M577.9 300.95 H583.1 M583.1 298.6 V303.29999999999995" stroke="#1A99B7" stroke-width="1.3" fill="none"/>
<text x="584.7" y="303.84999999999997" font-size="8.4" font-weight="bold" font-style="italic" fill="#111111" stroke="#111111" stroke-width="0.35">##</text>
<rect x="533.3" y="304.9" width="91.60000000000002" height="7.9" fill="#FF8000"/>
<path d="M624.9 308.84999999999997 H634.8 M634.8 306.5 V311.19999999999993" stroke="#FF8000" stroke-width="1.3" fill="none"/>
<text x="636.1999999999999" y="315.65" font-size="12" font-weight="bold" fill="#111111">**</text>
<rect x="533.3" y="312.8" width="39.10000000000002" height="7.9" fill="#000000"/>
<path d="M572.4 316.75 H579 M579 314.40000000000003 V319.09999999999997" stroke="#000000" stroke-width="1.3" fill="none"/>
<text x="530.8" y="313.25" font-size="11.8" text-anchor="end" fill="#111111">Atf3</text>
<rect x="533.3" y="328.35" width="36.10000000000002" height="7.9" fill="#1A99B7"/>
<path d="M569.4 332.3 H572.4 M572.4 329.95000000000005 V334.65" stroke="#1A99B7" stroke-width="1.3" fill="none"/>
<text x="574.0" y="335.2" font-size="8.4" font-weight="bold" font-style="italic" fill="#111111" stroke="#111111" stroke-width="0.35">##</text>
<rect x="533.3" y="336.25" width="2.0" height="7.9" fill="#FF8000"/>
<path d="M535.3 340.2 H535.8 M535.8 337.85 V342.54999999999995" stroke="#FF8000" stroke-width="1.3" fill="none"/>
<text x="537.1999999999999" y="347.0" font-size="12" font-weight="bold" fill="#111111">**</text>
<rect x="533.3" y="344.15000000000003" width="39.10000000000002" height="7.9" fill="#000000"/>
<path d="M572.4 348.1 H582.5 M582.5 345.75000000000006 V350.45" stroke="#000000" stroke-width="1.3" fill="none"/>
<text x="530.8" y="344.6" font-size="11.8" text-anchor="end" fill="#111111">Rrm2</text>
<rect x="533.3" y="359.7" width="30.800000000000068" height="7.9" fill="#1A99B7"/>
<path d="M564.1 363.65 H567.8 M567.8 361.3 V365.99999999999994" stroke="#1A99B7" stroke-width="1.3" fill="none"/>
<text x="569.4" y="366.54999999999995" font-size="8.4" font-weight="bold" font-style="italic" fill="#111111" stroke="#111111" stroke-width="0.35">#</text>
<rect x="533.3" y="367.59999999999997" width="12.600000000000023" height="7.9" fill="#FF8000"/>
<path d="M545.9 371.54999999999995 H547.2 M547.2 369.2 V373.8999999999999" stroke="#FF8000" stroke-width="1.3" fill="none"/>
<text x="548.6" y="378.34999999999997" font-size="12" font-weight="bold" fill="#111111">**</text>
<rect x="533.3" y="375.5" width="39.10000000000002" height="7.9" fill="#000000"/>
<path d="M572.4 379.45 H580.2 M580.2 377.1 V381.79999999999995" stroke="#000000" stroke-width="1.3" fill="none"/>
<text x="530.8" y="375.95" font-size="11.8" text-anchor="end" fill="#111111">Furin</text>
<rect x="533.3" y="391.05" width="54.0" height="7.9" fill="#1A99B7"/>
<path d="M587.3 395.0 H594.6 M594.6 392.65000000000003 V397.34999999999997" stroke="#1A99B7" stroke-width="1.3" fill="none"/>
<text x="596.2" y="397.9" font-size="8.4" font-weight="bold" font-style="italic" fill="#111111" stroke="#111111" stroke-width="0.35">##</text>
<rect x="533.3" y="398.95" width="4.600000000000023" height="7.9" fill="#FF8000"/>
<path d="M537.9 402.9 H540 M540 400.55 V405.24999999999994" stroke="#FF8000" stroke-width="1.3" fill="none"/>
<text x="541.4" y="409.7" font-size="12" font-weight="bold" fill="#111111">**</text>
<rect x="533.3" y="406.85" width="39.10000000000002" height="7.9" fill="#000000"/>
<path d="M572.4 410.8 H583.6 M583.6 408.45000000000005 V413.15" stroke="#000000" stroke-width="1.3" fill="none"/>
<text x="530.8" y="407.3" font-size="11.8" text-anchor="end" fill="#111111">GPX4</text>
<rect x="533.3" y="422.4" width="41.30000000000007" height="7.9" fill="#1A99B7"/>
<path d="M574.6 426.34999999999997 H579.2 M579.2 424.0 V428.69999999999993" stroke="#1A99B7" stroke-width="1.3" fill="none"/>
<text x="580.8000000000001" y="429.24999999999994" font-size="8.4" font-weight="bold" font-style="italic" fill="#111111" stroke="#111111" stroke-width="0.35">#</text>
<rect x="533.3" y="430.29999999999995" width="19.300000000000068" height="7.9" fill="#FF8000"/>
<path d="M552.6 434.24999999999994 H556.3 M556.3 431.9 V436.5999999999999" stroke="#FF8000" stroke-width="1.3" fill="none"/>
<text x="557.6999999999999" y="441.04999999999995" font-size="12" font-weight="bold" fill="#111111">*</text>
<rect x="533.3" y="438.2" width="39.10000000000002" height="7.9" fill="#000000"/>
<path d="M572.4 442.15 H580.8 M580.8 439.8 V444.49999999999994" stroke="#000000" stroke-width="1.3" fill="none"/>
<text x="530.8" y="438.65" font-size="11.8" text-anchor="end" fill="#111111">SLC7A11</text>
<path d="M533.3 292 V449.6 H650.9" fill="none" stroke="#111111" stroke-width="1.5"/>
<line x1="533.3" x2="533.3" y1="449.6" y2="455" stroke="#111111" stroke-width="1.5"/>
<text x="533.3" y="465.6" font-size="12" text-anchor="middle" fill="#111111">0</text>
<line x1="572.4" x2="572.4" y1="449.6" y2="455" stroke="#111111" stroke-width="1.5"/>
<text x="572.4" y="465.6" font-size="12" text-anchor="middle" fill="#111111">1</text>
<line x1="611.5" x2="611.5" y1="449.6" y2="455" stroke="#111111" stroke-width="1.5"/>
<text x="611.5" y="465.6" font-size="12" text-anchor="middle" fill="#111111">2</text>
<line x1="650.5999999999999" x2="650.5999999999999" y1="449.6" y2="455" stroke="#111111" stroke-width="1.5"/>
<text x="650.5999999999999" y="465.6" font-size="12" text-anchor="middle" fill="#111111">3</text>
<text x="591.2" y="476.6" font-size="11.6" text-anchor="middle" fill="#111111">Relative intesntiy</text>
</svg>
</body></html>
